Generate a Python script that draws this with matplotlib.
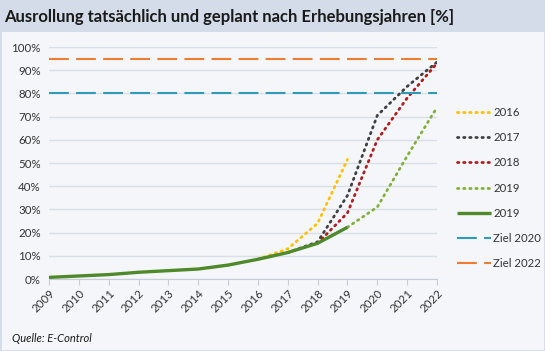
import matplotlib.pyplot as plt
from matplotlib.patches import Rectangle
import numpy as np

nan = np.nan
years = list(range(2009, 2023))
ist_2019 = [0.7, 1.3, 1.9, 2.9, 3.6, 4.3, 6.0, 8.5, 11.4, 15.4, 22.3, nan, nan, nan]
plan_2016 = [nan, nan, nan, nan, nan, nan, nan, 8.5, 13.0, 24.0, 51.5, nan, nan, nan]
plan_2017 = [nan, nan, nan, nan, nan, nan, nan, nan, 11.4, 16.0, 36.0, 70.5, 83.0, 93.5]
plan_2018 = [nan, nan, nan, nan, nan, nan, nan, nan, nan, 15.4, 28.5, 60.0, 78.0, 93.0]
plan_2019 = [nan, nan, nan, nan, nan, nan, nan, nan, nan, nan, 22.3, 31.0, 53.0, 74.0]
ziel_2020 = 80
ziel_2022 = 95

fig = plt.figure(figsize=(5.45, 3.51), dpi=100, facecolor="#f4f6fa")
fig.patches.append(Rectangle((0, 1 - 32 / 351), 1, 32 / 351, transform=fig.transFigure,
                             facecolor="#d3dce8", edgecolor="none", zorder=0))
fig.patches.append(Rectangle((0, 0), 1, 1, transform=fig.transFigure,
                             facecolor="none", edgecolor="#d3dce8", lw=2, zorder=0))
fig.text(0.008, 1 - 17 / 351, "Ausrollung tatsächlich und geplant nach Erhebungsjahren [%]",
         family="Lato", fontweight="bold", fontsize=12.0, color="#1a1a1a", va="center")
fig.text(0.022, 1 - 338 / 351, "Quelle: E-Control", family="Lato", style="italic",
         fontsize=8, color="#1a1a1a", va="center")

ax = fig.add_axes([49 / 545, 72 / 351, 388 / 545, 232 / 351])
ax.set_facecolor("#f4f6fa")

dot = dict(linestyle=(0, (0.5, 1.7)), dash_capstyle="round", lw=2.0)
ax.plot(years, plan_2016, color="#ffc000", label="2016", **dot)
ax.plot(years, plan_2017, color="#404040", label="2017", **dot)
ax.plot(years, plan_2018, color="#b01c1c", label="2018", **dot)
ax.plot(years, plan_2019, color="#82b03c", label="2019", **dot)
ax.plot(years, ist_2019, color="#4f8a2a", lw=2.4, label="2019", solid_capstyle="butt")
dash = dict(linestyle=(0, (9.5, 3.5)), lw=1.5, dash_capstyle="butt")
ax.plot(years, [ziel_2020] * len(years), color="#2f9bb9", label="Ziel 2020", **dash)
ax.plot(years, [ziel_2022] * len(years), color="#ed7d31", label="Ziel 2022", **dash)

ax.set_xlim(years[0], years[-1])
ax.set_ylim(0, 100)
ax.set_yticks(range(0, 101, 10))
ax.set_yticklabels([f"{v}%" for v in range(0, 101, 10)])
ax.set_xticks(years)
ax.set_xticklabels([str(y) for y in years], rotation=45, ha="right", rotation_mode="anchor")
ax.grid(axis="y", color="#d9dee7", lw=1)
ax.set_axisbelow(True)
for s in ["top", "right", "left"]:
    ax.spines[s].set_visible(False)
ax.spines["bottom"].set_color("#c8ccd4")
ax.tick_params(axis="y", length=0, labelsize=8.3, pad=6, labelcolor="#333333")
ax.tick_params(axis="x", length=4, color="#c8ccd4", labelsize=8.3, pad=2, labelcolor="#333333")
for lbl in ax.get_xticklabels() + ax.get_yticklabels():
    lbl.set_family("Lato")

leg = ax.legend(loc="upper left", bbox_to_anchor=(457 / 545, 1 - 107 / 351),
                bbox_transform=fig.transFigure, frameon=False, handlelength=3.0,
                handletextpad=0.2, labelspacing=1.25, borderaxespad=0, borderpad=0,
                prop={"family": "Lato", "size": 8.2})
for t in leg.get_texts():
    t.set_color("#333333")

fig.savefig("out.png", dpi=100, facecolor=fig.get_facecolor())
